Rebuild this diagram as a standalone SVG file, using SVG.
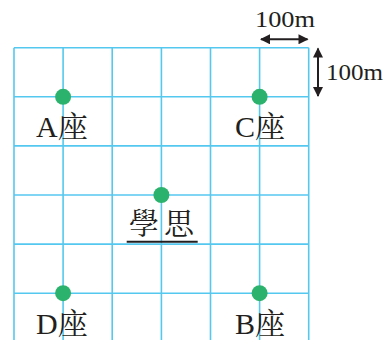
<svg xmlns="http://www.w3.org/2000/svg" width="385" height="340" viewBox="0 0 385 340">
  <style>
    .grid { stroke: #55c8ef; stroke-width: 1.6; fill: none; }
    .dot { fill: #2bb36e; }
    .lbl { font-family: "Liberation Serif", "Noto Serif CJK TC", "Noto Sans CJK TC", serif; font-size: 30px; fill: #231f20; }
    .dim { font-family: "Liberation Serif", serif; font-size: 24px; fill: #231f20; }
    .arr { stroke: #231f20; stroke-width: 2; fill: none; }
  </style>
  <defs>
    <marker id="ah" viewBox="0 0 10 10" refX="9" refY="5" markerWidth="5.5" markerHeight="5" orient="auto-start-reverse" markerUnits="strokeWidth">
      <path d="M0,0 L10,5 L0,10 z" fill="#231f20"/>
    </marker>
  </defs>
  <rect width="385" height="340" fill="#ffffff"/>
  <g id="grid">
    <path class="grid" d="M14,47.7 V341 M63.1,47.7 V341 M112.2,47.7 V341 M161.4,47.7 V341 M210.5,47.7 V341 M259.6,47.7 V341 M308.7,47.7 V341"/>
    <path class="grid" d="M14,47.7 H308.7 M14,96.8 H308.7 M14,145.9 H308.7 M14,195 H308.7 M14,244.1 H308.7 M14,293.2 H308.7"/>
  </g>
  <g id="connectors">
    <line class="arr" x1="261" y1="39.3" x2="307.5" y2="39.3" marker-start="url(#ah)" marker-end="url(#ah)"/>
    <line class="arr" x1="318" y1="48.5" x2="318" y2="96" marker-start="url(#ah)" marker-end="url(#ah)"/>
  </g>
  <g id="dim-h"><text class="dim" x="255" y="26.7" textLength="60" lengthAdjust="spacingAndGlyphs">100m</text></g>
  <g id="dim-v"><text class="dim" x="326" y="80" textLength="57" lengthAdjust="spacingAndGlyphs">100m</text></g>
  <g id="A">
    <circle class="dot" cx="63.1" cy="96.8" r="8"/>
    <text class="lbl" x="36" y="137">A座</text>
  </g>
  <g id="C">
    <circle class="dot" cx="259.6" cy="96.8" r="8"/>
    <text class="lbl" x="235" y="137">C座</text>
  </g>
  <g id="XueSi">
    <circle class="dot" cx="161.4" cy="195" r="8"/>
    <text class="lbl" x="129" y="234" textLength="65" lengthAdjust="spacing">學思</text>
    <line x1="126.7" y1="241.7" x2="197.7" y2="241.7" stroke="#231f20" stroke-width="2"/>
  </g>
  <g id="D">
    <circle class="dot" cx="63.1" cy="293.2" r="8"/>
    <text class="lbl" x="36" y="333.5">D座</text>
  </g>
  <g id="B">
    <circle class="dot" cx="259.6" cy="293.2" r="8"/>
    <text class="lbl" x="235" y="333.5">B座</text>
  </g>
</svg>
